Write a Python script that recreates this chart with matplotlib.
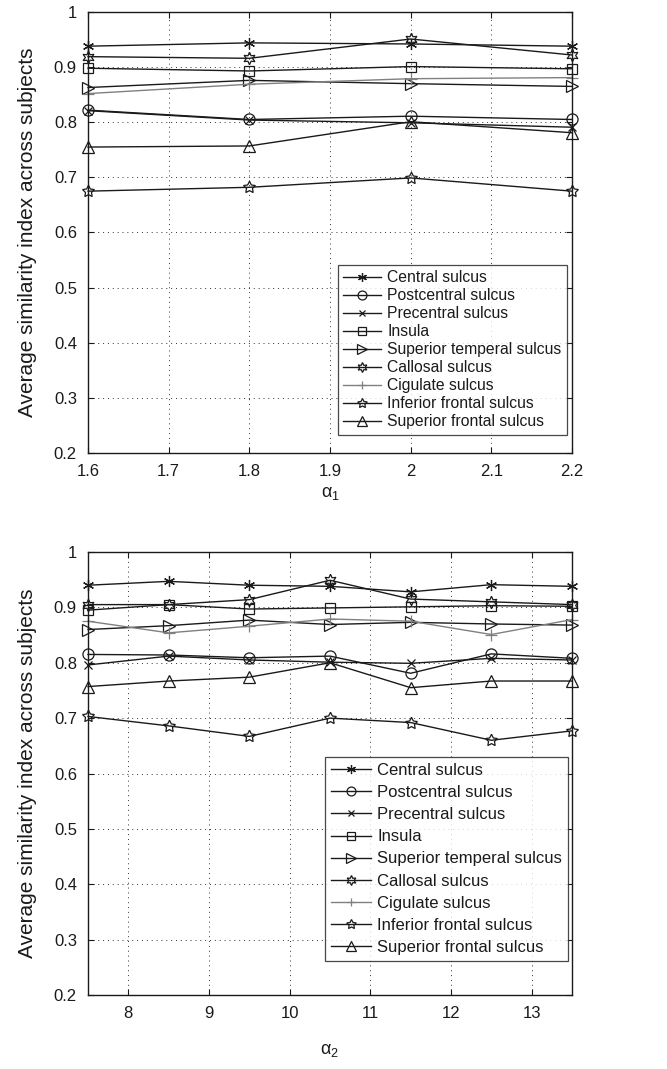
import matplotlib
matplotlib.use("Agg")
import matplotlib.pyplot as plt

plt.rcParams['font.family'] = ['Liberation Sans', 'DejaVu Sans']

names = ["Central sulcus", "Postcentral sulcus", "Precentral sulcus", "Insula",
         "Superior temperal sulcus", "Callosal sulcus", "Cigulate sulcus",
         "Inferior frontal sulcus", "Superior frontal sulcus"]

alpha1 = [1.6, 1.8, 2.0, 2.2]
top_central = [0.938, 0.944, 0.942, 0.938]
top_postcentral = [0.822, 0.805, 0.811, 0.805]
top_precentral = [0.821, 0.804, 0.799, 0.791]
top_insula = [0.898, 0.893, 0.901, 0.897]
top_suptemp = [0.863, 0.876, 0.870, 0.865]
top_callosal = [0.919, 0.916, 0.951, 0.922]
top_cigulate = [0.852, 0.869, 0.879, 0.881]
top_inffront = [0.675, 0.682, 0.699, 0.675]
top_supfront = [0.755, 0.757, 0.801, 0.781]

alpha2 = [7.5, 8.5, 9.5, 10.5, 11.5, 12.5, 13.5]
bot_central = [0.940, 0.947, 0.940, 0.938, 0.928, 0.941, 0.938]
bot_postcentral = [0.815, 0.814, 0.809, 0.812, 0.781, 0.816, 0.808]
bot_precentral = [0.796, 0.812, 0.805, 0.801, 0.799, 0.808, 0.805]
bot_insula = [0.895, 0.905, 0.897, 0.899, 0.901, 0.903, 0.902]
bot_suptemp = [0.860, 0.867, 0.877, 0.869, 0.873, 0.870, 0.868]
bot_callosal = [0.905, 0.905, 0.914, 0.949, 0.915, 0.910, 0.905]
bot_cigulate = [0.875, 0.854, 0.866, 0.879, 0.875, 0.851, 0.878]
bot_inffront = [0.703, 0.686, 0.667, 0.700, 0.692, 0.660, 0.677]
bot_supfront = [0.757, 0.767, 0.774, 0.800, 0.755, 0.767, 0.767]

top_series = [top_central, top_postcentral, top_precentral, top_insula, top_suptemp,
              top_callosal, top_cigulate, top_inffront, top_supfront]
bot_series = [bot_central, bot_postcentral, bot_precentral, bot_insula, bot_suptemp,
              bot_callosal, bot_cigulate, bot_inffront, bot_supfront]

styles = [
    dict(marker=(6, 2, 0), color='#1a1a1a', ms=8),
    dict(marker='o', color='#1a1a1a', ms=8),
    dict(marker='x', color='#1a1a1a', ms=6),
    dict(marker='s', color='#1a1a1a', ms=7),
    dict(marker='>', color='#1a1a1a', ms=9),
    dict(marker=(6, 1, 0), color='#1a1a1a', ms=9),
    dict(marker='+', color='#808080', ms=8),
    dict(marker=(5, 1, 0), color='#1a1a1a', ms=9),
    dict(marker='^', color='#1a1a1a', ms=9),
]

fig = plt.figure(figsize=(6.67, 10.69), dpi=100)
ax1 = fig.add_axes([88/667, 1-453/1069, 484/667, 441/1069])
ax2 = fig.add_axes([88/667, 1-995/1069, 484/667, 443/1069])

def draw(ax, x, series, xlim, xticks, xlabel, anchor, legfs, legls, xlpad):
    for name, y, st in zip(names, series, styles):
        ax.plot(x, y, color=st['color'], lw=1.0, marker=st['marker'], ms=st['ms'],
                mfc='none', mec=st['color'], mew=0.9, label=name, clip_on=False)
    ax.set_xlim(*xlim)
    ax.set_ylim(0.2, 1.0)
    ax.set_xticks(xticks)
    ax.set_xticklabels([('%g' % t) for t in xticks])
    ax.set_yticks([0.2, 0.3, 0.4, 0.5, 0.6, 0.7, 0.8, 0.9, 1.0])
    ax.set_yticklabels(['0.2', '0.3', '0.4', '0.5', '0.6', '0.7', '0.8', '0.9', '1'])
    ax.grid(True, linestyle=(0, (1, 4)), color='#333333', lw=0.7)
    ax.tick_params(direction='in', top=True, right=True, labelsize=12, length=4,
                   width=0.8, colors='#1a1a1a', pad=8)
    for s in ax.spines.values():
        s.set_linewidth(1.0)
        s.set_color('#1a1a1a')
    ax.set_ylabel('Average similarity index across subjects', fontsize=15, labelpad=12,
                  color='#1a1a1a')
    ax.set_xlabel(xlabel, fontsize=13, labelpad=xlpad, color='#1a1a1a')
    leg = ax.legend(loc='upper right', bbox_to_anchor=anchor,
                    bbox_transform=fig.transFigure,
                    fontsize=legfs, frameon=True, fancybox=False, borderaxespad=0,
                    handlelength=2.4, handletextpad=0.4, labelspacing=legls,
                    borderpad=0.35, markerscale=0.8)
    leg.get_frame().set_edgecolor('#1a1a1a')
    leg.get_frame().set_linewidth(0.9)
    for t in leg.get_texts():
        t.set_color('#1a1a1a')

draw(ax1, alpha1, top_series, (1.6, 2.2), [1.6, 1.7, 1.8, 1.9, 2.0, 2.1, 2.2],
     r'$\mathregular{\alpha_1}$', (567/667, 1-265/1069), 11.3, 0.19, 4)
draw(ax2, alpha2, bot_series, (7.5, 13.5), [8, 9, 10, 11, 12, 13],
     r'$\mathregular{\alpha_2}$', (568/667, 1-757/1069), 12.0, 0.43, 15)

fig.savefig('out.png', dpi=100)
